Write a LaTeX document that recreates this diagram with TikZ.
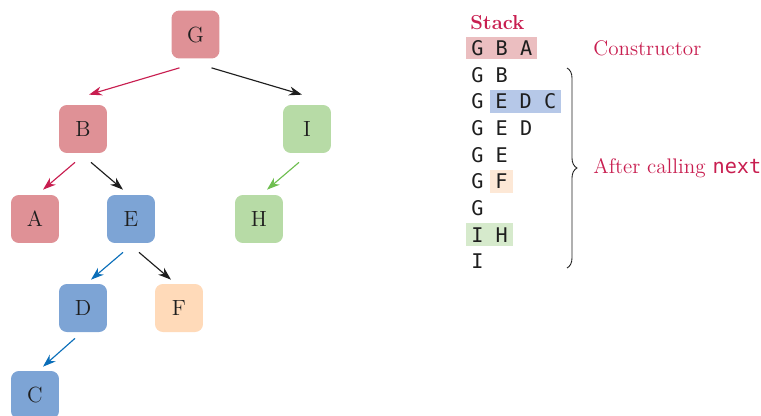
\documentclass[tikz,border=0pt]{standalone}
\usepackage{fontspec}
\newfontfamily\stackfont{DejaVu Sans Mono}
\usepackage{tikz}
\usetikzlibrary{arrows.meta,calc,decorations.pathreplacing}
\usepackage{xcolor}
\definecolor{textdark}  {RGB}{ 30,  30,  30}
\definecolor{stackred}  {RGB}{200,  30,  80}
\definecolor{boxred}    {RGB}{223, 145, 150}
\definecolor{boxblue}   {RGB}{125, 164, 213}
\definecolor{boxgreen}  {RGB}{183, 219, 166}
\definecolor{boxpeach}  {RGB}{255, 218, 185}
\definecolor{hlred}     {RGB}{235, 190, 192}
\definecolor{hlblue}    {RGB}{182, 200, 232}
\definecolor{hlgreen}   {RGB}{214, 234, 204}
\definecolor{hlpeach}   {RGB}{253, 232, 214}
\definecolor{arrowblue} {RGB}{ 10, 110, 185}
\definecolor{arrowgreen}{RGB}{110, 190,  80}

\begin{document}
\begin{tikzpicture}[x=0.02cm,y=-0.02cm,
  every node/.style={font=\fontsize{12.5}{14}\selectfont},
  treebox/.style={rounded corners=4.5pt,minimum size=0.96cm,inner sep=0pt,
                  text=textdark},
  arr/.style={-{Stealth[length=2.6mm,width=1.8mm]},line width=0.65pt},
  stk/.style={font=\fontsize{11.5}{13}\stackfont,anchor=west,inner xsep=0.1cm,
              inner ysep=1.2pt,text height=9.5pt,text depth=1.1pt,text=textdark},
  lbl/.style={font=\fontsize{12}{14}\selectfont,text=stackred,
              anchor=base west,inner sep=0pt},
]
\useasboundingbox (0,0) rectangle (761,416);

%% ── Tree ────────────────────────────────────────────────────────────────
\node[treebox,fill=boxred]   (G) at (195.5,34.5) {G};
\node[treebox,fill=boxred]   (B) at (83,129)    {B};
\node[treebox,fill=boxgreen] (I) at (307,129)   {I};
\node[treebox,fill=boxred]   (A) at (35,219)    {A};
\node[treebox,fill=boxblue]  (E) at (131,219)   {E};
\node[treebox,fill=boxgreen] (H) at (259,219)   {H};
\node[treebox,fill=boxblue]  (D) at (83,308)    {D};
\node[treebox,fill=boxpeach] (F) at (179,308)   {F};
\node[treebox,fill=boxblue]  (C) at (35,395)    {C};

\draw[arr,stackred]   ($(G.south)+(-16,9)$) -- ($(B.north)+(6,-10)$);
\draw[arr,textdark]   ($(G.south)+(16,9)$)  -- ($(I.north)+(-5,-10)$);
\draw[arr,stackred]   ($(B.south)+(-8,9)$)  -- ($(A.north)+(8,-5)$);
\draw[arr,textdark]   ($(B.south)+(8,9)$)   -- ($(E.north)+(-8,-5)$);
\draw[arr,arrowgreen] ($(I.south)+(-8,9)$)  -- ($(H.north)+(8,-5)$);
\draw[arr,arrowblue]  ($(E.south)+(-8,9)$)  -- ($(D.north)+(8,-4)$);
\draw[arr,textdark]   ($(E.south)+(8,9)$)   -- ($(F.north)+(-8,-4)$);
\draw[arr,arrowblue]  ($(D.south)+(-8,6)$)  -- ($(C.north)+(8,-4)$);

%% ── Stack contents ──────────────────────────────────────────────────────
\node[lbl,font=\fontsize{11.5}{13}\selectfont\bfseries] (title) at (470,29) {Stack};
\node[stk,fill=hlred]   (S1)  at (466,48)    {G B A};
\node[stk]              (S2)  at (466,74.7)  {G B};
\node[stk]              (S3)  at (466,101.4) {G};
\node[stk,fill=hlblue]  (S3b) at (490,101.4) {E D C};
\node[stk]              (S4)  at (466,128.1) {G E D};
\node[stk]              (S5)  at (466,154.8) {G E};
\node[stk]              (S6)  at (466,181.5) {G};
\node[stk,fill=hlpeach] (S6b) at (490,181.5) {F};
\node[stk]              (S7)  at (466,208.2) {G};
\node[stk,fill=hlgreen] (S8)  at (466,234.9) {I H};
\node[stk]              (S9)  at (466,261.6) {I};

%% ── Labels ──────────────────────────────────────────────────────────────
\node[lbl] (ctor) at (593,55) {Constructor};
\draw[decorate,decoration={brace,amplitude=0.2cm},line width=0.5pt,textdark]
  (567,68) -- (567,268);
\node[lbl] (nxt) at (593,173) {After calling {\fontsize{11.5}{13}\stackfont next}};

\end{tikzpicture}
\end{document}
